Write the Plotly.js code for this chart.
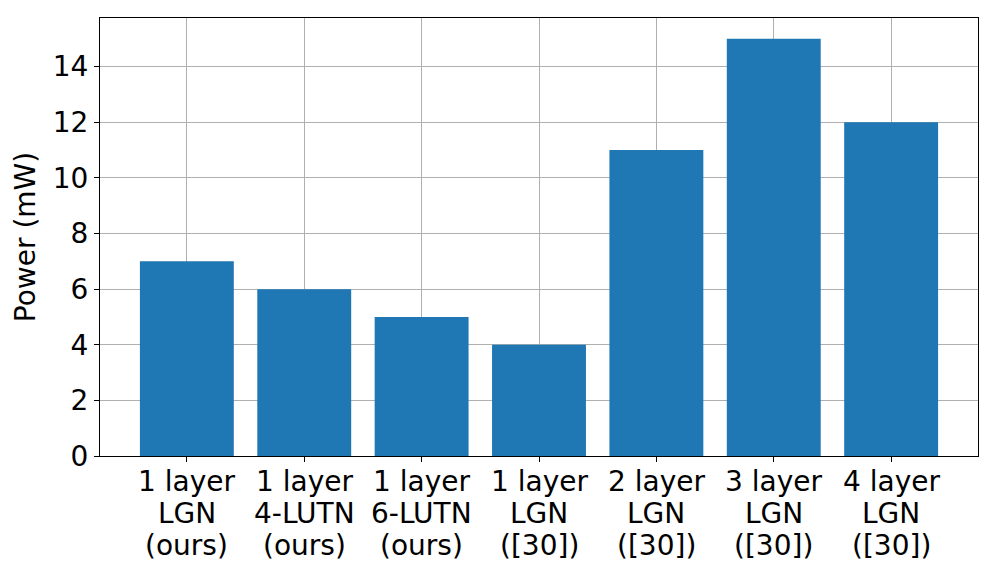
<!DOCTYPE html>
<html>
<head>
<meta charset="utf-8">
<script src="https://cdn.plot.ly/plotly-3.0.1.min.js"></script>
<style>html,body{margin:0;padding:0;background:#fff;}#chart{width:996px;height:569px;}</style>
</head>
<body>
<div id="chart"></div>
<script>
const categories = [
  "1 layer\nLGN\n(ours)",
  "1 layer\n4-LUTN\n(ours)",
  "1 layer\n6-LUTN\n(ours)",
  "1 layer\nLGN\n([30])",
  "2 layer\nLGN\n([30])",
  "3 layer\nLGN\n([30])",
  "4 layer\nLGN\n([30])"
];
const powerValues = [7, 6, 5, 4, 11, 15, 12];
const yTickValues = [0, 2, 4, 6, 8, 10, 12, 14];
const yAxisLabel = "Power (mW)";

const fontFamily = "DejaVu Sans, sans-serif";
const fontSize = 28;
const lineStep = 32;
const xIdx = categories.map((_, i) => i);

// x tick labels as per-line annotations (matplotlib-like line spacing)
const annotations = [];
categories.forEach((cat, i) => {
  cat.split("\n").forEach((line, j) => {
    annotations.push({
      x: i, xref: "x", y: 0, yref: "paper",
      text: line, showarrow: false,
      xanchor: "center", yanchor: "top",
      yshift: -(7 + j * lineStep),
      font: {family: fontFamily, size: fontSize, color: "#000"}
    });
  });
});

Plotly.newPlot("chart", [{
  type: "bar",
  x: xIdx,
  y: powerValues,
  width: 0.8,
  marker: {color: "#1f77b4", line: {width: 0}},
  hoverinfo: "none"
}], {
  width: 996, height: 569,
  margin: {l: 100, r: 18, t: 18, b: 113},
  paper_bgcolor: "#fff", plot_bgcolor: "#fff",
  font: {family: fontFamily, size: fontSize, color: "#000"},
  showlegend: false,
  annotations: annotations,
  xaxis: {
    range: [-0.74, 6.74],
    tickmode: "array", tickvals: xIdx, showticklabels: false,
    showgrid: true, gridcolor: "#b0b0b0", gridwidth: 1,
    showline: true, linecolor: "#000", linewidth: 1, mirror: true,
    ticks: "outside", ticklen: 5, tickcolor: "#000", tickwidth: 1,
    zeroline: false
  },
  yaxis: {
    range: [0, 15.75],
    tickmode: "array", tickvals: yTickValues,
    showgrid: true, gridcolor: "#b0b0b0", gridwidth: 1,
    showline: true, linecolor: "#000", linewidth: 1, mirror: true,
    ticks: "outside", ticklen: 5, tickcolor: "#000", tickwidth: 1,
    zeroline: false,
    tickfont: {family: fontFamily, size: fontSize, color: "#000"},
    title: {text: yAxisLabel, font: {family: fontFamily, size: fontSize, color: "#000"}, standoff: 8}
  }
}, {staticPlot: true, displayModeBar: false});
</script>
</body>
</html>
